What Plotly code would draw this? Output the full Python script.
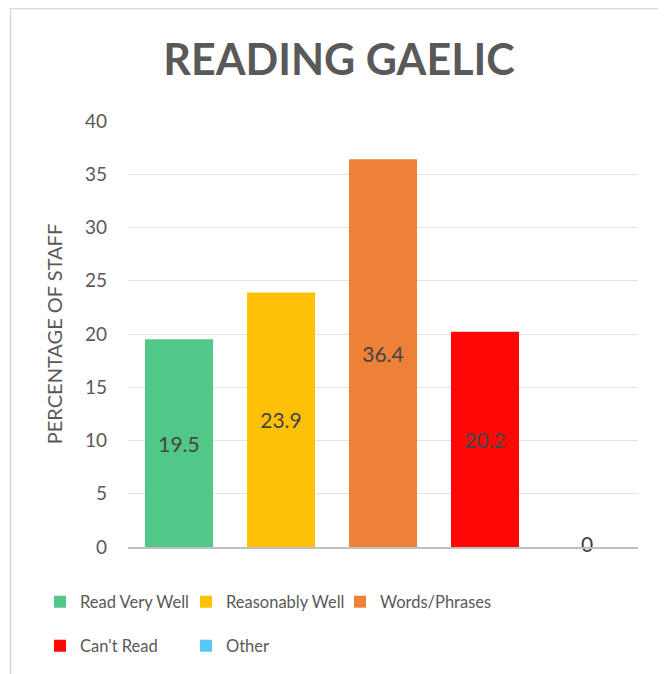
import plotly.graph_objects as go

categories = ['Read Very Well', 'Reasonably Well', 'Words/Phrases', "Can't Read", 'Other']
values = [19.5, 23.9, 36.4, 20.2, 0]
bar_colors = ['#4CC685', '#FFC000', '#ED7D31', '#FF0000', '#4FC9F2']
y_ticks = [0, 5, 10, 15, 20, 25, 30, 35, 40]

W, H = 666, 674
OFF = 8  # page body margin shifts the figure by this much
ML, MR, MT, MB = 120, 36, 113, 135
PW = W - ML - MR
PH = H - MT - MB

# helpers take screen pixel positions (as seen in the reference)
def px_to_paper_x(px):
    return (px - OFF - ML) / PW

def px_to_paper_y(py):
    return (H - MB - (py - OFF)) / PH

# legend entry positions (screen px): left edge, row centre
legend_pos = [(40, 602), (186, 602), (340, 602), (40, 646), (186, 646)]

fig = go.Figure()

for i, (cat, val, col) in enumerate(zip(categories, values, bar_colors)):
    fig.add_trace(go.Bar(
        x=[cat], y=[val], name=cat,
        marker=dict(color=col, line=dict(width=0)),
        opacity=0.97,
        width=0.667,
        text=[f'{val:g}'] if val > 0 else None,
        textposition='inside',
        insidetextanchor='middle',
        textangle=0,
        textfont=dict(family='Lato', size=21, color='#404040'),
        legend='legend' if i == 0 else f'legend{i + 1}',
    ))

# label for the zero-height bar, sitting on the baseline
zero_cats = [c for c, v in zip(categories, values) if v == 0]
zero_vals = [v for v in values if v == 0]
fig.add_trace(go.Scatter(
    x=zero_cats, y=zero_vals, mode='text',
    text=[f'{v:g}' for v in zero_vals],
    textposition='middle center',
    textfont=dict(family='Lato', size=21, color='#404040'),
    showlegend=False, cliponaxis=False, hoverinfo='skip',
))

legends = {}
for i, (lx, ly) in enumerate(legend_pos):
    key = 'legend' if i == 0 else f'legend{i + 1}'
    legends[key] = dict(orientation='h', x=px_to_paper_x(lx), xanchor='left',
                        y=px_to_paper_y(ly), yanchor='middle',
                        font=dict(family='Lato', size=16.5, color='#595959'),
                        bgcolor='rgba(0,0,0,0)')

fig.update_layout(
    width=W, height=H,
    margin=dict(l=ML, r=MR, t=MT, b=MB),
    plot_bgcolor='white', paper_bgcolor='white',
    barmode='overlay',
    font=dict(family='Lato', color='#595959'),
    title=dict(text='<b>READING GAELIC</b>', x=(339 - OFF) / W,
               xanchor='center', y=1 - (60 - OFF) / H, yanchor='middle',
               font=dict(family='Lato', size=43, color='#595959')),
    shapes=[
        dict(type='line', xref='paper', yref='paper',
             x0=px_to_paper_x(10.5), x1=px_to_paper_x(10.5),
             y0=px_to_paper_y(8), y1=px_to_paper_y(H + 20),
             line=dict(color='#D9D9D9', width=1.5)),
        dict(type='line', xref='paper', yref='paper',
             x0=px_to_paper_x(10), x1=px_to_paper_x(W + 20),
             y0=px_to_paper_y(8.5), y1=px_to_paper_y(8.5),
             line=dict(color='#D9D9D9', width=1.5)),
    ],
    **legends,
)

fig.update_xaxes(showticklabels=False, ticks='', showgrid=False,
                 showline=True, linecolor='#BFBFBF', linewidth=1.5,
                 zeroline=False)
fig.update_yaxes(range=[0, 40], tickvals=y_ticks, ticks='',
                 showgrid=True, gridcolor='#E3E3E3', gridwidth=1,
                 zeroline=False, showline=False,
                 tickfont=dict(family='Lato', size=19, color='#595959'),
                 ticklabelstandoff=20,
                 title=dict(text='PERCENTAGE OF STAFF', standoff=16,
                            font=dict(family='Lato', size=20, color='#595959')))

fig.write_html('out.html')
